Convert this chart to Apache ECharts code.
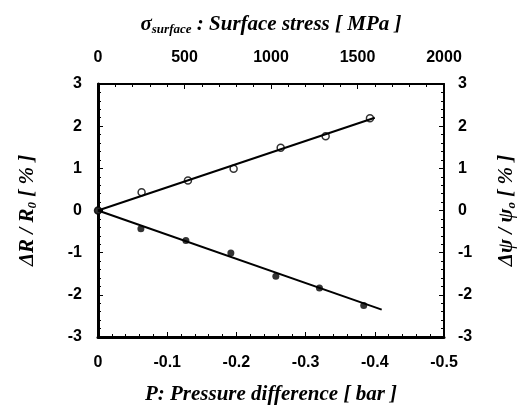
<!DOCTYPE html>
<html>
<head>
<meta charset="utf-8">
<script src="https://cdn.jsdelivr.net/npm/echarts@6/dist/echarts.min.js"></script>
<style>
  html, body { margin: 0; padding: 0; background: #fff; }
  #chart { width: 517px; height: 411px; }
</style>
</head>
<body>
<div id="chart"></div>
<script>
// pressure difference [bar] of the measured points
var pressure = [0, -0.063, -0.130, -0.196, -0.264, -0.329, -0.393];
// open circles (upper branch) [%]
var openVals = [0, 0.43, 0.71, 0.99, 1.49, 1.76, 2.19];
// filled circles (lower branch) pressure + values [%]
var pressureFilled = [0, -0.062, -0.127, -0.192, -0.257, -0.320, -0.384];
var filledVals = [0, -0.43, -0.71, -1.01, -1.56, -1.84, -2.25];
// fitted lines (end points)
var fitOpenX = [0, -0.40];
var fitOpenY = [0, 2.20];
var fitFilledX = [0, -0.41];
var fitFilledY = [0, -2.35];
// ticks
var yTicks = [-3, -2, -1, 0, 1, 2, 3];
var stressTicks = [0, 500, 1000, 1500, 2000];
var pressureTicks = [0, -0.1, -0.2, -0.3, -0.4, -0.5];

function pairs(xs, ys) {
  var out = [];
  for (var i = 0; i < xs.length; i++) out.push([xs[i], ys[i]]);
  return out;
}

var labelFont = { color: '#000', fontFamily: 'Liberation Sans, Arial', fontWeight: 'bold', fontSize: 16 };
var titleFont = 'Liberation Serif, Times New Roman';
var titleRich = {
  a: { color: '#000', fontFamily: titleFont, fontWeight: 'bold', fontStyle: 'italic', fontSize: 21 },
  s: { color: '#000', fontFamily: titleFont, fontWeight: 'bold', fontStyle: 'italic', fontSize: 13, verticalAlign: 'bottom', padding: [9, 0, 0, 0] }
};
function tickStyle(w) {
  return {
    axisLine: { onZero: false, lineStyle: { color: '#000', width: w } },
    axisTick: { inside: true, length: 5, lineStyle: { color: '#000' } },
    minorTick: { show: true, splitNumber: 5, length: 3, lineStyle: { color: '#000' } },
    splitLine: { show: false }
  };
}

var chart = echarts.init(document.getElementById('chart'));
var option = {
  backgroundColor: '#fff',
  animation: false,
  grid: { left: 98, right: 73, top: 84, bottom: 74, containLabel: false, outerBoundsMode: 'none' },
  xAxis: [
    Object.assign(tickStyle(3), {
      type: 'value', position: 'bottom', inverse: true,
      min: pressureTicks[pressureTicks.length - 1], max: pressureTicks[0], interval: 0.1,
      axisLabel: Object.assign({ margin: 18 }, labelFont),
      name: '{a|P: Pressure difference [ bar ]}', nameLocation: 'middle', nameGap: 47,
      nameTextStyle: { rich: titleRich }
    }),
    Object.assign(tickStyle(2), {
      type: 'value', position: 'top',
      min: stressTicks[0], max: stressTicks[stressTicks.length - 1], interval: 500,
      axisLabel: Object.assign({ margin: 18, formatter: function (v) { return String(v); } }, labelFont),
      name: '{a|σ}{s|surface}{a| : Surface stress [ MPa ]}', nameLocation: 'middle', nameGap: 48,
      nameTextStyle: { rich: titleRich }
    })
  ],
  yAxis: [
    Object.assign(tickStyle(3), {
      type: 'value', position: 'left',
      min: yTicks[0], max: yTicks[yTicks.length - 1], interval: 1,
      axisLabel: Object.assign({ margin: 16 }, labelFont),
      name: '{a|ΔR / R}{s|0}{a| [ % ]}', nameLocation: 'middle', nameGap: 59,
      nameTextStyle: { rich: titleRich }
    }),
    Object.assign(tickStyle(2), {
      type: 'value', position: 'right',
      min: yTicks[0], max: yTicks[yTicks.length - 1], interval: 1,
      axisLabel: Object.assign({ margin: 14 }, labelFont),
      name: '{a|Δψ / ψ}{s|o}{a| [ % ]}', nameLocation: 'middle', nameGap: 52, nameRotate: 90,
      nameTextStyle: { rich: titleRich }
    })
  ],
  series: [
    {
      type: 'line', xAxisIndex: 0, yAxisIndex: 0,
      data: pairs(fitOpenX, fitOpenY), symbol: 'none',
      lineStyle: { color: '#000', width: 2 }
    },
    {
      type: 'line', xAxisIndex: 0, yAxisIndex: 0,
      data: pairs(fitFilledX, fitFilledY), symbol: 'none',
      lineStyle: { color: '#000', width: 2 }
    },
    {
      type: 'scatter', xAxisIndex: 0, yAxisIndex: 0,
      data: pairs(pressure, openVals), symbol: 'circle', symbolSize: 7,
      itemStyle: { color: '#fff', borderColor: '#000', borderWidth: 1.5 }
    },
    {
      type: 'scatter', xAxisIndex: 0, yAxisIndex: 0,
      data: pairs(pressureFilled, filledVals), symbol: 'circle', symbolSize: 7,
      itemStyle: { color: '#000' }
    }
  ]
};
chart.setOption(option);
</script>
</body>
</html>
